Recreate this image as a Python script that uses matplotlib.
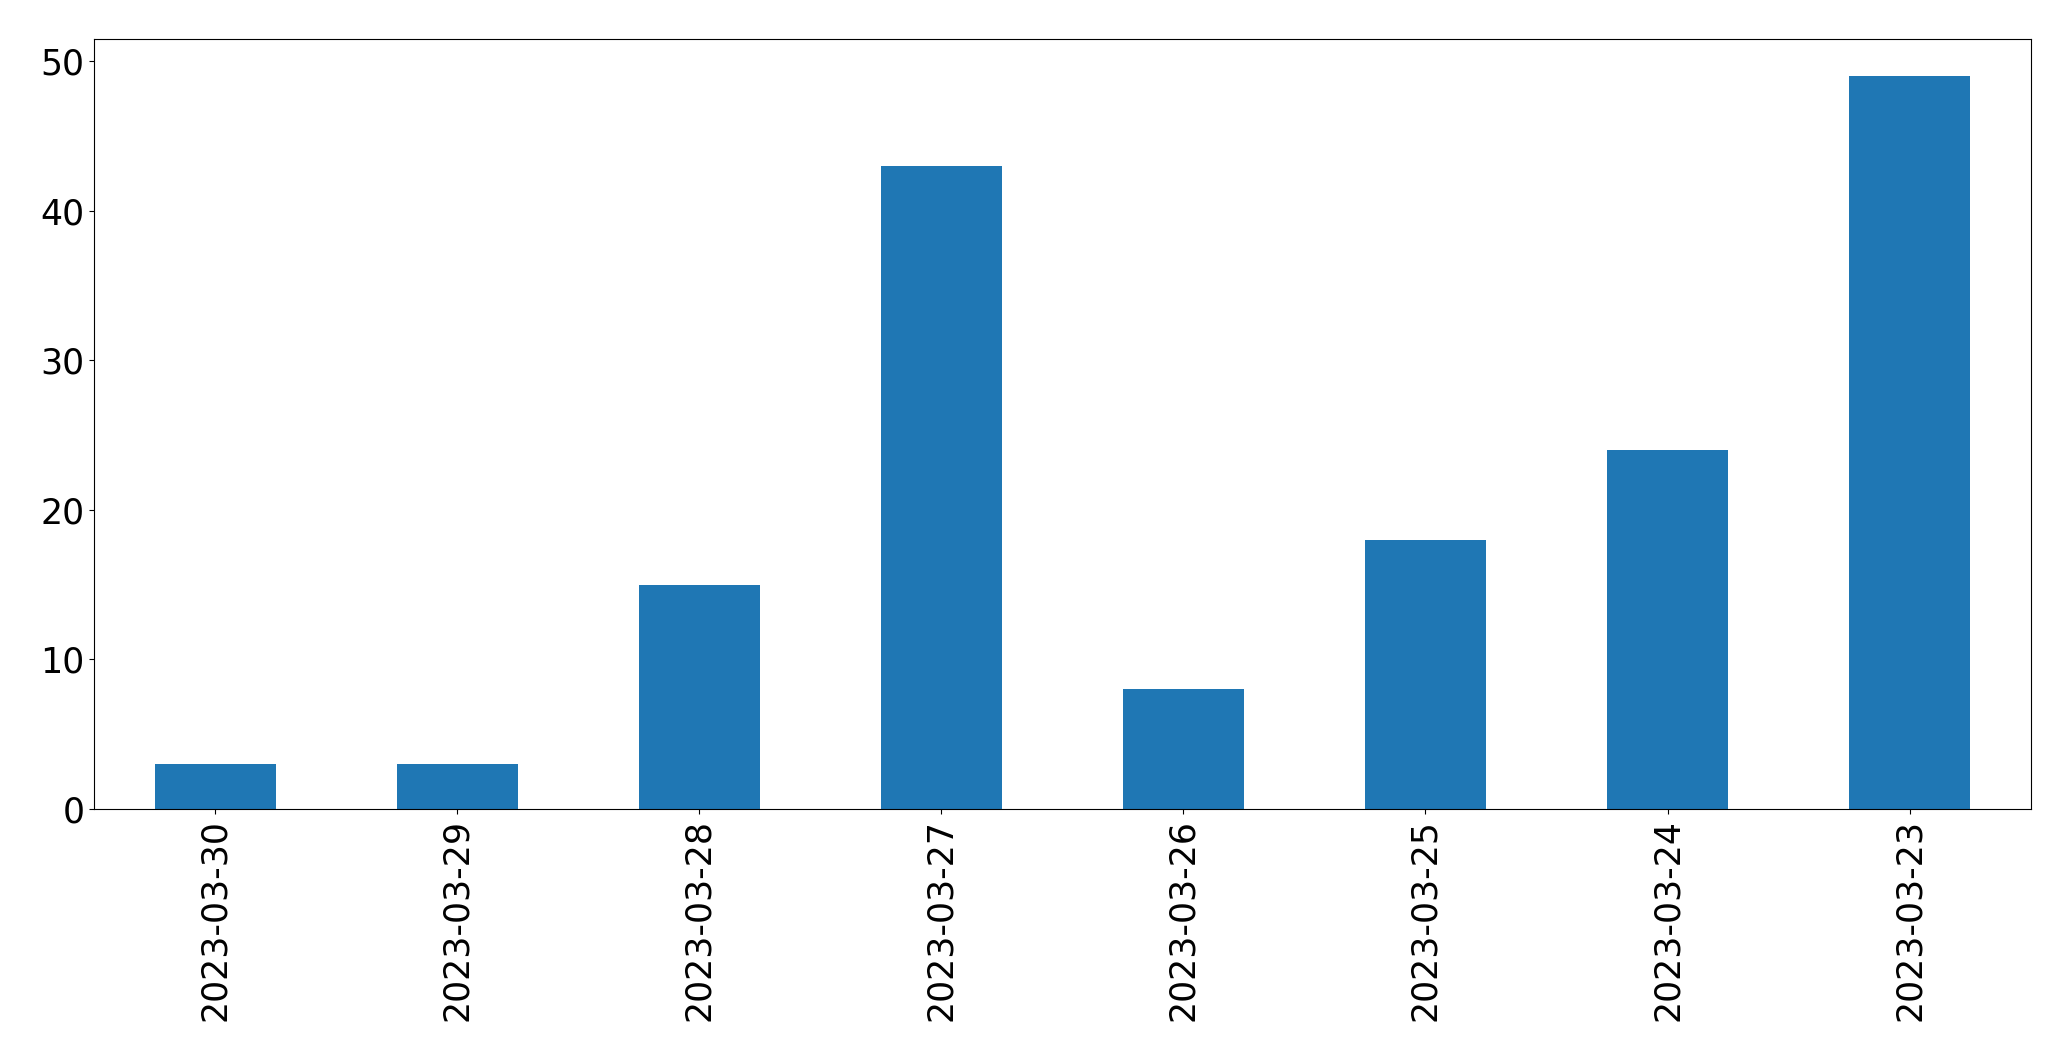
import matplotlib
matplotlib.use("Agg")
import matplotlib.pyplot as plt
import numpy as np

dates = ["2023-03-30", "2023-03-29", "2023-03-28", "2023-03-27",
         "2023-03-26", "2023-03-25", "2023-03-24", "2023-03-23"]
counts = [3, 3, 15, 43, 8, 18, 24, 49]

fig = plt.figure(figsize=(20.71, 10.61), dpi=100)
ax = fig.add_axes([0.0454, 0.2375, 0.9805 - 0.0454, 0.963 - 0.2375])
x = np.arange(len(dates))
ax.bar(x, counts, width=0.5, color="#1f77b4")
ax.set_xlim(-0.5, len(dates) - 0.5)
ax.set_ylim(0, max(counts) * 1.05)
ax.set_xticks(x)
ax.set_xticklabels(dates, rotation=90)
ax.tick_params(labelsize=25)
fig.savefig("out.png", dpi=100)
